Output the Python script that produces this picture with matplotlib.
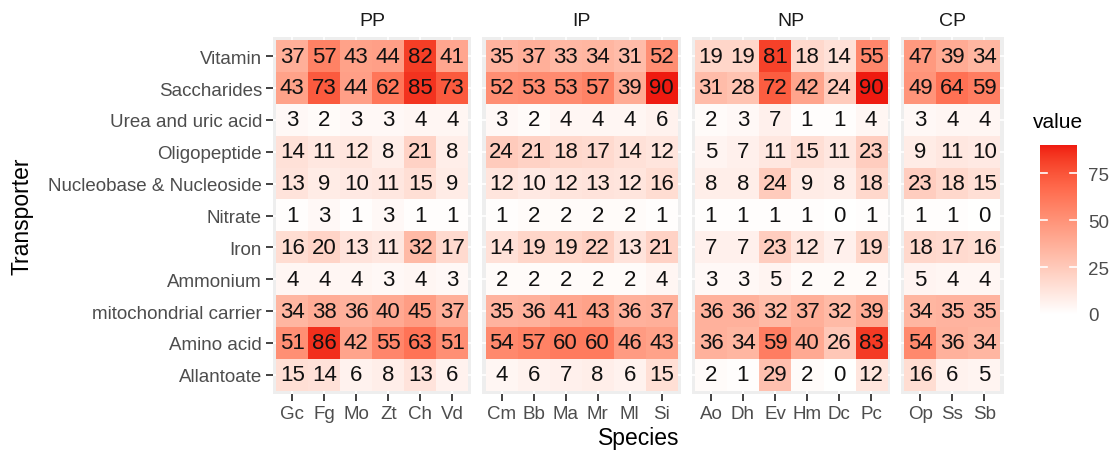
import numpy as np
import matplotlib
matplotlib.use("Agg")
import matplotlib.pyplot as plt
from matplotlib.colors import ListedColormap

plt.rcParams['font.family'] = ['Liberation Sans', 'DejaVu Sans']

# data
transporters = ["Vitamin", "Saccharides", "Urea and uric acid", "Oligopeptide",
                "Nucleobase & Nucleoside", "Nitrate", "Iron", "Ammonium",
                "mitochondrial carrier", "Amino acid", "Allantoate"]
groups = ["PP", "IP", "NP", "CP"]

pp_species = ["Gc", "Fg", "Mo", "Zt", "Ch", "Vd"]
pp_values = [[37, 57, 43, 44, 82, 41],
             [43, 73, 44, 62, 85, 73],
             [3, 2, 3, 3, 4, 4],
             [14, 11, 12, 8, 21, 8],
             [13, 9, 10, 11, 15, 9],
             [1, 3, 1, 3, 1, 1],
             [16, 20, 13, 11, 32, 17],
             [4, 4, 4, 3, 4, 3],
             [34, 38, 36, 40, 45, 37],
             [51, 86, 42, 55, 63, 51],
             [15, 14, 6, 8, 13, 6]]

ip_species = ["Cm", "Bb", "Ma", "Mr", "Ml", "Si"]
ip_values = [[35, 37, 33, 34, 31, 52],
             [52, 53, 53, 57, 39, 90],
             [3, 2, 4, 4, 4, 6],
             [24, 21, 18, 17, 14, 12],
             [12, 10, 12, 13, 12, 16],
             [1, 2, 2, 2, 2, 1],
             [14, 19, 19, 22, 13, 21],
             [2, 2, 2, 2, 2, 4],
             [35, 36, 41, 43, 36, 37],
             [54, 57, 60, 60, 46, 43],
             [4, 6, 7, 8, 6, 15]]

np_species = ["Ao", "Dh", "Ev", "Hm", "Dc", "Pc"]
np_values = [[19, 19, 81, 18, 14, 55],
             [31, 28, 72, 42, 24, 90],
             [2, 3, 7, 1, 1, 4],
             [5, 7, 11, 15, 11, 23],
             [8, 8, 24, 9, 8, 18],
             [1, 1, 1, 1, 0, 1],
             [7, 7, 23, 12, 7, 19],
             [3, 3, 5, 2, 2, 2],
             [36, 36, 32, 37, 32, 39],
             [36, 34, 59, 40, 26, 83],
             [2, 1, 29, 2, 0, 12]]

cp_species = ["Op", "Ss", "Sb"]
cp_values = [[47, 39, 34],
             [49, 64, 59],
             [3, 4, 4],
             [9, 11, 10],
             [23, 18, 15],
             [1, 1, 0],
             [18, 17, 16],
             [5, 4, 4],
             [34, 35, 35],
             [54, 36, 34],
             [16, 6, 5]]

species = [pp_species, ip_species, np_species, cp_species]
values = [pp_values, ip_values, np_values, cp_values]
vmax = 90


# white -> red gradient interpolated in CIE Lab (like ggplot)
def lab2rgb(L, a, b):
    fy = (L + 16) / 116
    fx = fy + a / 500
    fz = fy - b / 200
    def finv(t):
        return np.where(t > 6 / 29, t ** 3, 3 * (6 / 29) ** 2 * (t - 4 / 29))
    X = 0.95047 * finv(fx)
    Y = 1.0 * finv(fy)
    Z = 1.08883 * finv(fz)
    r = 3.2406 * X - 1.5372 * Y - 0.4986 * Z
    g = -0.9689 * X + 1.8758 * Y + 0.0415 * Z
    bb = 0.0557 * X - 0.2040 * Y + 1.0570 * Z
    rgb = np.stack([r, g, bb], axis=-1)
    rgb = np.where(rgb > 0.0031308, 1.055 * np.abs(rgb) ** (1 / 2.4) - 0.055, 12.92 * rgb)
    return np.clip(rgb, 0, 1)


t = np.linspace(0, 1, 256)
hi_L, hi_a, hi_b = 51.0, 74.0, 60.0
cmap = ListedColormap(lab2rgb(100 + t * (hi_L - 100), t * hi_a, t * hi_b))

W, H = 1110, 452
fig = plt.figure(figsize=(W / 100, H / 100), dpi=100)

unit = 32.0
left = 273
top, bottom = 38, 395
gap = 11
tick_col = "#4D4D4D"

x0 = left
axes = []
for gi, (g, sp, vals) in enumerate(zip(groups, species, values)):
    n = len(sp)
    wpx = (n + 0.2) * unit
    ax = fig.add_axes([x0 / W, (H - bottom) / H, wpx / W, (bottom - top) / H])
    ax.set_facecolor("#EEEEEE")
    arr = np.array(vals)
    ax.imshow(arr, cmap=cmap, vmin=0, vmax=vmax, aspect="auto",
              extent=(-0.5, n - 0.5, len(transporters) - 0.5, -0.5), zorder=2)
    for i in range(arr.shape[0]):
        for j in range(arr.shape[1]):
            ax.text(j, i, str(arr[i, j]), ha="center", va="center",
                    fontsize=16, color="#111111", zorder=3)
    ax.set_xlim(-0.6, n - 0.4)
    ax.set_ylim(len(transporters) - 0.4, -0.6)
    ax.set_xticks(range(n))
    ax.set_xticklabels(sp, fontsize=13.5, color=tick_col)
    ax.set_yticks(range(len(transporters)))
    if gi == 0:
        ax.set_yticklabels(transporters, fontsize=13.5, color=tick_col)
    else:
        ax.set_yticklabels([])
    ax.tick_params(axis="both", length=5, width=1.3, color="#333333", pad=3)
    if gi > 0:
        ax.tick_params(axis="y", length=0)
    ax.grid(True, color="white", linewidth=1.2, zorder=1)
    ax.set_axisbelow(True)
    for s in ax.spines.values():
        s.set_visible(False)
    ax.set_title(g, fontsize=14, color="#1A1A1A", pad=9)
    axes.append(ax)
    x0 += wpx + gap

right = x0 - gap
fig.text(((left + right) / 2) / W, 1 - 439 / H, "Species", ha="center", va="center",
         fontsize=16.5, color="black")
fig.text(22 / W, 1 - ((top + bottom) / 2) / H, "Transporter", ha="center", va="center",
         rotation=90, fontsize=16.5, color="black")

# colour bar
cax = fig.add_axes([1040 / W, (H - 315) / H, 37 / W, 169 / H])
grad = np.linspace(0, vmax, 256).reshape(-1, 1)
cax.imshow(grad, cmap=cmap, vmin=0, vmax=vmax, aspect="auto", origin="lower",
           extent=(0, 1, 0, vmax))
cax.set_xlim(0, 1)
cax.set_ylim(0, vmax)
for v in [25, 50, 75]:
    cax.plot([0, 0.2], [v, v], color="white", lw=1.2)
    cax.plot([0.8, 1], [v, v], color="white", lw=1.2)
cax.set_xticks([])
cax.yaxis.tick_right()
cax.set_yticks([0, 25, 50, 75])
cax.set_yticklabels(["0", "25", "50", "75"], fontsize=13.5, color=tick_col)
cax.tick_params(axis="y", length=0, pad=8)
for s in cax.spines.values():
    s.set_visible(False)
fig.text(1033 / W, 1 - 123 / H, "value", ha="left", va="center", fontsize=15, color="black")

fig.savefig("out.png", dpi=100)
